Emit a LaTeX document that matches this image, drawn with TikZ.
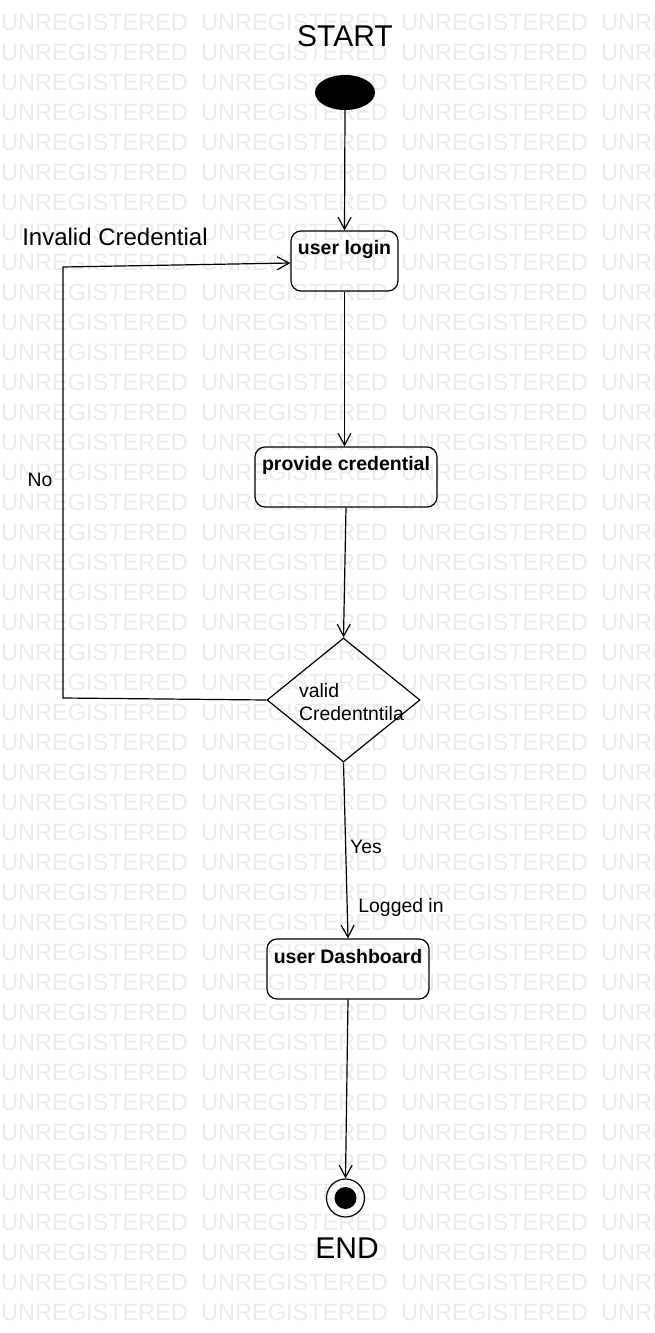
\documentclass[tikz,border=0pt]{standalone}
\usepackage{fontspec}
\setmainfont{Liberation Sans}
\usetikzlibrary{arrows.meta,shapes.geometric}
\begin{document}
\begin{tikzpicture}[x=1pt,y=-1pt,
  wm/.style={text=black!8, font=\fontsize{23.5}{28}\selectfont, inner sep=0pt, anchor=base west},
  act/.style={draw, rounded corners=10pt, line width=1.2pt, inner sep=0pt},
  boxtxt/.style={font=\bfseries\fontsize{19.5}{23}\selectfont, inner sep=0pt},
  lbl/.style={font=\fontsize{19.4}{22}\selectfont, inner sep=0pt},
  big/.style={font=\fontsize{30}{34}\selectfont, inner sep=0pt},
  arr/.style={line width=1.2pt, -{Straight Barb[length=12pt,width=13pt,line width=1.2pt]}},
  ln/.style={line width=1.2pt}]
\useasboundingbox (0,0) rectangle (655,1333);
\fill[white] (0,0) rectangle (655,1333);
% watermark
\foreach \r in {0,...,43} {
  \foreach \c in {0,...,3} {
    \node[wm] (wm-\r-\c) at (\c*200+1, 30+\r*30) {UNREGISTERED};
  }
}
% nodes
\node[big] (starttxt) at (345,36) {START};
\node[ellipse, fill=black, minimum width=60pt, minimum height=35pt, inner sep=0pt] (start) at (345,92.5) {};
\node[act, minimum width=107pt, minimum height=60pt] (login) at (344.5,261) {};
\node[boxtxt] (logint) at (344.5,249) {user login};
\node[act, minimum width=182pt, minimum height=60pt] (cred) at (346,477) {};
\node[boxtxt] (credt) at (346,465) {provide credential};
\node[diamond, draw, line width=1.2pt, minimum width=153pt, minimum height=124pt, inner sep=0pt] (dec) at (343.5,700) {};
\node[lbl, anchor=west, align=left, font=\fontsize{19.4}{22.5}\selectfont] (dect) at (299,702) {valid\\Credentntila};
\node[act, minimum width=162pt, minimum height=60pt] (dash) at (348,969) {};
\node[boxtxt] (dasht) at (348,957) {user Dashboard};
\node[circle, draw, line width=1.2pt, minimum size=38pt, inner sep=0pt] (endo) at (345.5,1198) {};
\node[circle, fill=black, minimum size=22pt, inner sep=0pt] (endi) at (345.5,1198) {};
\node[big] (endtxt) at (347,1248) {END};
% labels
\node[lbl, font=\fontsize{24}{28}\selectfont] (inv) at (115,237) {Invalid Credential};
\node[lbl] (no) at (40,480) {No};
\node[lbl] (yes) at (366,847) {Yes};
\node[lbl] (logged) at (401,907) {Logged in};
% connectors
\coordinate (c1) at (63,698);
\coordinate (c2) at (63,267);
\draw[arr] (start.south) -- (login.north);
\draw[arr] (login.south) -- (login.south |- cred.north);
\draw[arr] (cred.south) -- (dec.north);
\draw[arr] (dec.south) -- (dash.north);
\draw[arr] (dash.south) -- (endo.north);
\draw[arr] (dec.west) -- (c1) -- (c2) -- ([yshift=-2pt]login.west);
\end{tikzpicture}
\end{document}
